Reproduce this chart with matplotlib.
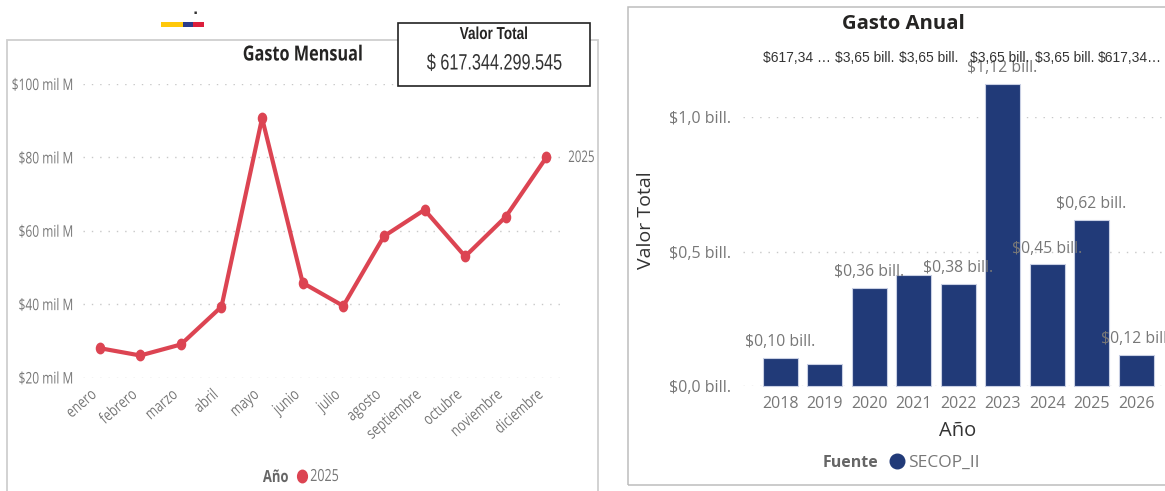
import matplotlib
matplotlib.use("Agg")
import matplotlib.pyplot as plt
from matplotlib.patches import Rectangle
from matplotlib.lines import Line2D
from matplotlib.markers import MarkerStyle
from matplotlib.patheffects import AbstractPathEffect
from matplotlib.transforms import Affine2D

W, H = 1165, 491
months = ["enero", "febrero", "marzo", "abril", "mayo", "junio", "julio", "agosto",
          "septiembre", "octubre", "noviembre", "diciembre"]
monthly = [28, 26, 29, 39.3, 90.7, 45.8, 39.5, 58.5, 65.7, 53, 63.8, 80]
month_ticks = [20, 40, 60, 80, 100]
month_tick_labels = ["$20 mil M", "$40 mil M", "$60 mil M", "$80 mil M", "$100 mil M"]

years = [2018, 2019, 2020, 2021, 2022, 2023, 2024, 2025, 2026]
annual = [0.104, 0.082, 0.365, 0.413, 0.38, 1.123, 0.453, 0.618, 0.115]
annual_labels = ["$0,10 bill.", None, "$0,36 bill.", None, "$0,38 bill.", "$1,12 bill.",
                 "$0,45 bill.", "$0,62 bill.", "$0,12 bill."]
annual_ticks = [0, 0.5, 1.0]
annual_tick_labels = ["$0,0 bill.", "$0,5 bill.", "$1,0 bill."]
overlay_labels = ["$617,34 …", "$3,65 bill.", "$3,65 bill.", "$3,65 bill.", "$3,65 bill.", "$617,34…"]
overlay_px = [797, 864.5, 929, 1000, 1064.5, 1130]

RED = "#DC4452"
NAVY = "#213A78"
GRAY = "#777777"
SANS = "Open Sans"
ARIAL = "Liberation Sans"


class Squash(AbstractPathEffect):
    """Narrow a text along its own baseline, as the squeezed left panel of the reference shows."""

    def __init__(self, sx, anchor, shift=(0, 0)):
        super().__init__(offset=shift)
        self.sx = sx
        self.anchor = anchor
        self.shift = shift

    def draw_path(self, renderer, gc, tpath, affine, rgbFace=None):
        e = tpath.get_extents()
        px = {"left": e.x0, "center": (e.x0 + e.x1) / 2, "right": e.x1}[self.anchor]
        t = (Affine2D().translate(-px, 0).scale(self.sx, 1).translate(px, 0) + affine
             + Affine2D().translate(*self.shift))
        renderer.draw_path(gc, tpath, t, rgbFace)


fig = plt.figure(figsize=(W / 100, H / 100), dpi=100, facecolor="white")


def axes_px(x0, x1, ytop, ybot):
    return fig.add_axes([x0 / W, 1 - ybot / H, (x1 - x0) / W, (ybot - ytop) / H])


def fx(x):
    return x / W


def fy(y):
    return 1 - y / H


tall = MarkerStyle("o", transform=Affine2D().scale(0.78, 1))

# panel frames
fig.add_artist(Rectangle((fx(6.5), fy(495)), (598 - 6.5) / W, (495 - 40) / H, transform=fig.transFigure,
                         fill=False, ec="#CFCFCF", lw=1.3))
fig.add_artist(Rectangle((fx(627.5), fy(485)), (1170 - 627.5) / W, (485 - 7) / H, transform=fig.transFigure,
                         fill=False, ec="#BDBDBD", lw=1.1))

# flag
for x0, x1, c in [(161, 183, "#FFC80A"), (183, 193, "#2A3C8A"), (193, 204, "#DC1F3C")]:
    fig.add_artist(Rectangle((fx(x0), fy(26.5)), (x1 - x0) / W, 4 / H, transform=fig.transFigure,
                             fc=c, ec="none"))
fig.text(fx(195), fy(12), "▪", fontsize=3.5, color="#333333", ha="center", va="center")

# monthly chart
ax = axes_px(83, 563, 84, 377.5)
ax.set_xlim(-0.41, 11.41)
ax.set_ylim(20, 100)
ax.patch.set_alpha(0)
ax.plot(range(12), monthly, color=RED, lw=3, marker=tall, ms=7.5, clip_on=False, zorder=3)
ax.set_yticks(month_ticks, month_tick_labels, fontfamily=SANS, fontsize=11.5, color=GRAY)
ax.set_xticks(range(12), months, rotation=41, ha="right", rotation_mode="anchor",
              fontfamily=SANS, fontsize=11.5, color=GRAY)
ax.tick_params(length=0, axis="y", pad=6.5)
ax.tick_params(length=0, axis="x", pad=8)
for lab in ax.get_yticklabels():
    lab.set_path_effects([Squash(0.75, "right")])
for lab in ax.get_xticklabels():
    lab.set_path_effects([Squash(0.78, "right", shift=(-10, 2))])
ax.grid(axis="y", color="#C8C8C8", lw=1, linestyle=(0, (1, 5)))
ax.set_axisbelow(True)
for s in ax.spines.values():
    s.set_visible(False)
fig.text(fx(568), fy(158), "2025", fontfamily=SANS, fontsize=11.5, color=GRAY, va="center",
         path_effects=[Squash(0.72, "left")])
fig.text(fx(303), fy(55), "Gasto Mensual", fontfamily=SANS, fontsize=15, fontweight="bold",
         color="#252423", ha="center", va="center", path_effects=[Squash(0.78, "center")])
fig.text(fx(288.5), fy(477), "Año", fontfamily=SANS, fontsize=12, fontweight="bold", color="#666666",
         ha="right", va="center", path_effects=[Squash(0.78, "right")])
fig.add_artist(Line2D([fx(302)], [fy(476)], marker=tall, ms=9, color=RED, transform=fig.transFigure))
fig.text(fx(310), fy(477), "2025", fontfamily=SANS, fontsize=12, color=GRAY, va="center",
         path_effects=[Squash(0.75, "left")])

# total card
fig.add_artist(Rectangle((fx(397.5), fy(86)), (590 - 397.5) / W, (86 - 23) / H, transform=fig.transFigure,
                         fc="white", ec="#222222", lw=1.2, zorder=5))
fig.text(fx(494), fy(34.5), "Valor Total", fontfamily=ARIAL, fontsize=12.5, fontweight="bold",
         color="#252423", ha="center", va="center", zorder=6, path_effects=[Squash(0.78, "center")])
fig.text(fx(494.5), fy(64), "$ 617.344.299.545", fontfamily=ARIAL, fontsize=16,
         color="#333333", ha="center", va="center", zorder=6, path_effects=[Squash(0.73, "center")])

# annual chart
bx = axes_px(743, 1165, 117, 386)
bx.set_xlim(2018 - 37 / 44.5, 2018 + 385 / 44.5)
bx.set_ylim(0, 1.0)
bx.patch.set_alpha(0)
bars = bx.bar(years, annual, width=35 / 44.5, color=NAVY, ec="#C9D0E4", lw=0.8, zorder=3, clip_on=False)
bx.set_xticks(years, [str(y) for y in years], fontfamily=SANS, fontsize=11.5, color=GRAY)
bx.set_yticks(annual_ticks, annual_tick_labels, fontfamily=SANS, fontsize=11.5, color=GRAY)
bx.tick_params(length=0, axis="y", pad=8.6)
bx.tick_params(length=0, axis="x", pad=7)
bx.grid(axis="y", color="#C8C8C8", lw=1, linestyle=(0, (1, 5)))
bx.set_axisbelow(True)
for s in bx.spines.values():
    s.set_visible(False)
for y, v, t in zip(years, annual, annual_labels):
    if t:
        bx.annotate(t, (y, v), xytext=(0, 5.5), textcoords="offset points", ha="center", va="bottom",
                    fontfamily=SANS, fontsize=11.3, color=GRAY, zorder=4, annotation_clip=False)
for x, t in zip(overlay_px, overlay_labels):
    fig.text(fx(x), fy(58), t, fontfamily=ARIAL, fontsize=10, color="#333333",
             ha="center", va="center", zorder=6)
fig.text(fx(903), fy(24), "Gasto Anual", fontfamily=SANS, fontsize=14.7, fontweight="bold",
         color="#252423", ha="center", va="center")
fig.text(fx(646), fy(220), "Valor Total", fontfamily=SANS, fontsize=14, color="#333333",
         rotation=90, ha="center", va="center")
fig.text(fx(958), fy(431.5), "Año", fontfamily=SANS, fontsize=14.5, color="#333333", ha="center", va="center")
fig.text(fx(850), fy(463), "Fuente", fontfamily=SANS, fontsize=11.5, fontweight="bold", color="#666666",
         ha="center", va="center")
fig.add_artist(Line2D([fx(897)], [fy(461)], marker="o", ms=10.5, color=NAVY, transform=fig.transFigure))
fig.text(fx(908), fy(463), "SECOP_II", fontfamily=SANS, fontsize=12.5, color=GRAY, va="center")

fig.savefig("out.png", dpi=100)
